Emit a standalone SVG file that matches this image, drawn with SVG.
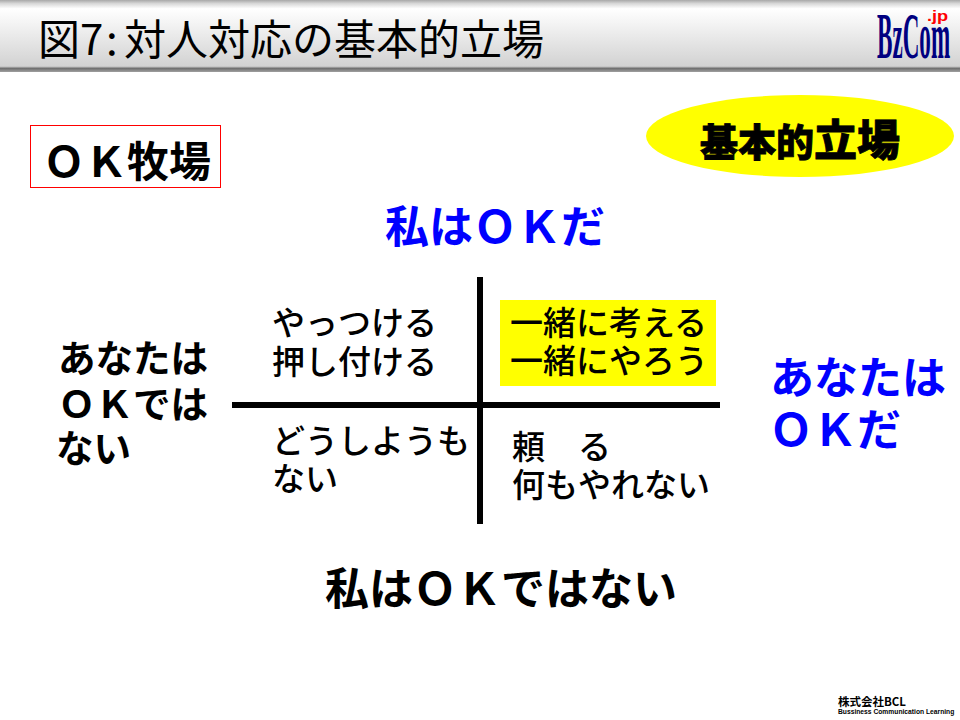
<svg xmlns="http://www.w3.org/2000/svg" width="960" height="720" viewBox="0 0 960 720">
<defs>
<linearGradient id="bar" x1="0" y1="0" x2="0" y2="1">
<stop offset="0" stop-color="#a8a8a8"/>
<stop offset="0.05" stop-color="#d8d8d8"/>
<stop offset="0.12" stop-color="#ffffff"/>
<stop offset="0.92" stop-color="#d2d2d2"/>
<stop offset="0.95" stop-color="#707070"/>
<stop offset="1" stop-color="#a0a0a0"/>
</linearGradient>
</defs>
<style>
text{font-family:"Noto Sans CJK JP","Liberation Sans",sans-serif;fill:#000}
.cell{font-size:33px;font-weight:500}
.axis{font-size:44px;font-weight:700}
.blue{fill:#0000ff}
.side{font-size:37.500px;font-weight:700}
.line{stroke:#000;stroke-width:6;fill:none}
</style>
<rect width="960" height="720" fill="#fff"/>
<g id="header">
<rect x="0" y="0" width="960" height="72" fill="url(#bar)"/>
<text y="55" font-size="42"><tspan x="38">図</tspan><tspan x="80">7</tspan><tspan x="106">:</tspan><tspan x="124">対人対応の基本的立場</tspan></text>
</g>
<g id="logo">
<text transform="translate(877 58) scale(0.35 1)" font-size="66" font-weight="700" style="font-family:'Liberation Serif',serif;fill:#000080">BzCom</text>
<text transform="translate(927 21) scale(1.3 1)" font-size="14" font-weight="700" style="font-family:'Liberation Sans',sans-serif;fill:#ff0000">.jp</text>
</g>
<g id="ok-ranch">
<rect x="30.500" y="125.500" width="190" height="62" fill="#fff" stroke="#ff0000" stroke-width="1"/>
<text x="43" y="177" font-size="42" font-weight="700">ＯＫ牧場</text>
</g>
<g id="basic-stance">
<ellipse cx="800" cy="136" rx="154" ry="41" fill="#ffff00"/>
<text x="700" y="156" font-weight="900" font-size="38" stroke="#000" stroke-width="0.8">基本的<tspan font-size="43">立場</tspan></text>
</g>
<g id="top-label">
<text class="axis blue" x="385" y="243">私はＯＫだ</text>
</g>
<g id="connectors">
<path class="line" d="M480 277V524"/>
<path class="line" d="M232 405H720"/>
</g>
<g id="q-top-left">
<text class="cell" x="272" y="335">やっつける</text>
<text class="cell" x="272" y="374">押し付ける</text>
</g>
<g id="q-top-right">
<rect x="500" y="300" width="216" height="86" fill="#ffff00"/>
<text class="cell" x="510" y="335">一緒に考える</text>
<text class="cell" x="510" y="373">一緒にやろう</text>
</g>
<g id="q-bottom-left">
<text class="cell" x="272" y="453">どうしようも</text>
<text class="cell" x="272" y="491">ない</text>
</g>
<g id="q-bottom-right">
<text class="cell" x="512" y="459">頼　る</text>
<text class="cell" x="512" y="497">何もやれない</text>
</g>
<g id="left-label">
<text class="side" x="58" y="372">あなたは</text>
<text class="side" x="58" y="418">ＯＫでは</text>
<text class="side" x="56" y="462">ない</text>
</g>
<g id="right-label">
<text class="axis blue" x="770" y="394">あなたは</text>
<text class="axis blue" x="769" y="446">ＯＫだ</text>
</g>
<g id="bottom-label">
<text class="axis" x="325" y="605">私はＯＫではない</text>
</g>
<g id="footer">
<text x="838" y="706" font-size="11.500" font-weight="700">株式会社BCL</text>
<text transform="translate(838 714) scale(0.84 1)" font-size="8" font-weight="700" style="font-family:'Liberation Sans',sans-serif">Bussiness Communication Learning</text>
</g>
</svg>
